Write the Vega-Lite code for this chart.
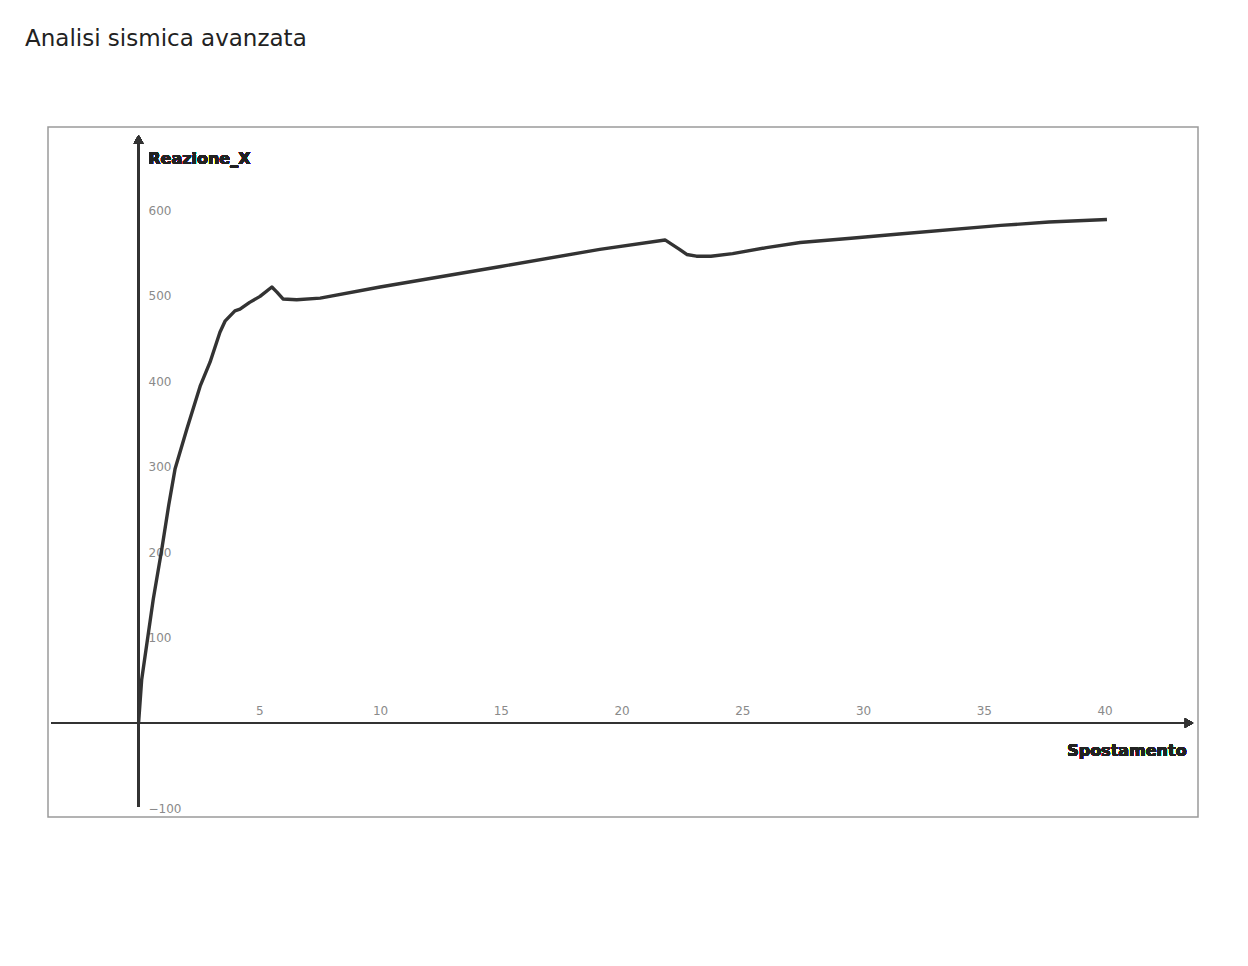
{
  "$schema": "https://vega.github.io/schema/vega-lite/v6.json",
  "width": 1150,
  "height": 690,
  "padding": {"left": 25, "top": 28, "right": 50, "bottom": 148},
  "background": "#ffffff",
  "title": {
    "text": "Analisi sismica avanzata",
    "anchor": "start",
    "dx": -23,
    "offset": 76,
    "fontSize": 23,
    "font": "DejaVu Sans",
    "fontWeight": "normal",
    "color": "#222222"
  },
  "config": {
    "view": {"stroke": "#9a9a9a", "strokeWidth": 1.5},
    "font": "Liberation Sans"
  },
  "data": {
    "values": [
      {"spostamento": 0, "reazione": 0},
      {"spostamento": 0.13, "reazione": 51},
      {"spostamento": 0.61, "reazione": 145},
      {"spostamento": 0.96, "reazione": 203},
      {"spostamento": 1.25, "reazione": 255},
      {"spostamento": 1.51, "reazione": 297},
      {"spostamento": 2.0, "reazione": 344},
      {"spostamento": 2.55, "reazione": 394},
      {"spostamento": 2.96, "reazione": 422},
      {"spostamento": 3.37, "reazione": 457},
      {"spostamento": 3.58, "reazione": 470},
      {"spostamento": 3.99, "reazione": 482},
      {"spostamento": 4.2, "reazione": 484},
      {"spostamento": 4.6, "reazione": 492},
      {"spostamento": 5.03, "reazione": 499},
      {"spostamento": 5.52, "reazione": 510},
      {"spostamento": 5.73, "reazione": 504},
      {"spostamento": 5.98, "reazione": 496},
      {"spostamento": 6.55, "reazione": 495},
      {"spostamento": 7.52, "reazione": 497},
      {"spostamento": 10, "reazione": 510},
      {"spostamento": 15, "reazione": 534},
      {"spostamento": 19.1, "reazione": 554},
      {"spostamento": 21.8, "reazione": 565},
      {"spostamento": 22.4, "reazione": 554},
      {"spostamento": 22.7, "reazione": 548},
      {"spostamento": 23.1, "reazione": 546},
      {"spostamento": 23.7, "reazione": 546},
      {"spostamento": 24.6, "reazione": 549},
      {"spostamento": 26.0, "reazione": 556},
      {"spostamento": 27.4, "reazione": 562},
      {"spostamento": 29.5, "reazione": 567},
      {"spostamento": 31.5, "reazione": 572},
      {"spostamento": 35.7, "reazione": 582},
      {"spostamento": 37.7, "reazione": 586},
      {"spostamento": 40.1, "reazione": 589}
    ]
  },
  "layer": [
    {
      "mark": {"type": "rule", "color": "#333333", "strokeWidth": 2},
      "encoding": {
        "x": {"datum": -3.6, "type": "quantitative", "scale": {"domain": [-3.75, 43.87], "nice": false, "zero": false}},
        "x2": {"datum": 43.4},
        "y": {"datum": 0, "type": "quantitative", "scale": {"domain": [-109.9, 697.1], "nice": false, "zero": false}}
      }
    },
    {
      "mark": {"type": "rule", "color": "#333333", "strokeWidth": 2},
      "encoding": {
        "x": {"datum": 0, "type": "quantitative"},
        "y": {"datum": -98, "type": "quantitative"},
        "y2": {"datum": 680}
      }
    },
    {
      "mark": {"type": "point", "shape": "triangle-right", "filled": true, "color": "#333333", "size": 90, "opacity": 1},
      "encoding": {
        "x": {"datum": 43.5, "type": "quantitative"},
        "y": {"datum": 0, "type": "quantitative"}
      }
    },
    {
      "mark": {"type": "point", "shape": "triangle-up", "filled": true, "color": "#333333", "size": 90, "opacity": 1},
      "encoding": {
        "x": {"datum": 0, "type": "quantitative"},
        "y": {"datum": 683, "type": "quantitative"}
      }
    },
    {
      "mark": {"type": "line", "color": "#333333", "strokeWidth": 3.4, "strokeJoin": "round"},
      "encoding": {
        "x": {
          "field": "spostamento",
          "type": "quantitative",
          "axis": {
            "orient": "top",
            "offset": -596,
            "values": [5, 10, 15, 20, 25, 30, 35, 40],
            "domain": false,
            "ticks": false,
            "grid": false,
            "title": null,
            "labelColor": "#8a8a8a",
            "labelFontSize": 12,
            "labelPadding": 6,
            "labelFont": "DejaVu Sans"
          }
        },
        "y": {
          "field": "reazione",
          "type": "quantitative",
          "axis": {
            "orient": "right",
            "offset": -1060,
            "values": [-100, 100, 200, 300, 400, 500, 600],
            "domain": false,
            "ticks": false,
            "grid": false,
            "title": null,
            "labelColor": "#8a8a8a",
            "labelFontSize": 12,
            "labelPadding": 10,
            "labelFont": "DejaVu Sans"
          }
        }
      }
    },
    {
      "mark": {"type": "text", "text": "Reazione_X", "fontWeight": "bold", "fontSize": 16, "align": "left", "baseline": "middle", "color": "#222222", "font": "DejaVu Sans"},
      "encoding": {
        "x": {"datum": 0.4, "type": "quantitative"},
        "y": {"datum": 660, "type": "quantitative"}
      }
    },
    {
      "mark": {"type": "text", "text": "Spostamento", "fontWeight": "bold", "fontSize": 16, "align": "right", "baseline": "middle", "color": "#222222", "font": "DejaVu Sans"},
      "encoding": {
        "x": {"datum": 43.4, "type": "quantitative"},
        "y": {"datum": -33, "type": "quantitative"}
      }
    }
  ]
}
